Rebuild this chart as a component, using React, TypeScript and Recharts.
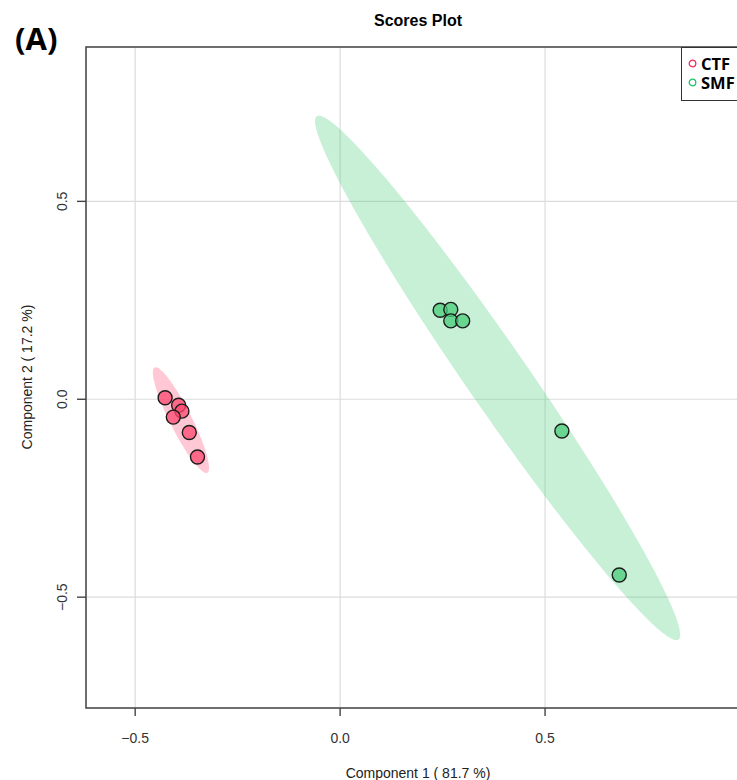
import React from "react";
import { ScatterChart, Scatter, XAxis, YAxis, CartesianGrid, ReferenceArea } from "recharts";

// PLS-DA scores (component 1, component 2)
const ctfX = [-0.427, -0.394, -0.386, -0.407, -0.368, -0.348];
const ctfY = [0.004, -0.015, -0.03, -0.045, -0.084, -0.146];
const smfX = [0.244, 0.27, 0.27, 0.299, 0.541, 0.681];
const smfY = [0.225, 0.227, 0.198, 0.198, -0.08, -0.444];

const groups = ["CTF", "SMF"];
const xTicks = [-0.5, 0, 0.5];
const yTicks = [-0.5, 0, 0.5];
const xDomain = [-0.62, 1.0];
const yDomain = [-0.78, 0.89];

const PINK = "#FF4870";
const GREEN = "#48CD7A";
const FONT = "'Liberation Sans', Arial, sans-serif";

const toPoints = (xs: number[], ys: number[]) => xs.map((x, i) => ({ x, y: ys[i] }));

// 95% ellipse the way R's ellipse(cov, centre, level = 0.95) builds it
function confEllipse(xs: number[], ys: number[], npoints = 100) {
  const n = xs.length;
  const mx = xs.reduce((a, b) => a + b, 0) / n;
  const my = ys.reduce((a, b) => a + b, 0) / n;
  let sxx = 0, syy = 0, sxy = 0;
  for (let i = 0; i < n; i++) {
    sxx += (xs[i] - mx) ** 2;
    syy += (ys[i] - my) ** 2;
    sxy += (xs[i] - mx) * (ys[i] - my);
  }
  const sx = Math.sqrt(sxx / (n - 1));
  const sy = Math.sqrt(syy / (n - 1));
  const d = Math.acos(sxy / (n - 1) / (sx * sy));
  const t = Math.sqrt(5.991465); // qchisq(0.95, 2)
  const out = [];
  for (let i = 0; i < npoints; i++) {
    const a = (2 * Math.PI * i) / (npoints - 1);
    out.push({ x: mx + t * sx * Math.cos(a + d / 2), y: my + t * sy * Math.cos(a - d / 2) });
  }
  return out;
}

const fmt = (v: number) => v.toFixed(1).replace("-", "\u2212");

const XTick = (props: any) => {
  const { x, y, payload } = props;
  return (
    <text x={x} y={y} dy="0.35em" textAnchor="middle" fontSize={14} fill="#333" fontFamily={FONT}>
      {fmt(payload.value)}
    </text>
  );
};

const YTick = (props: any) => {
  const { x, y, payload } = props;
  return (
    <text x={x} y={y} dy="0.35em" textAnchor="middle" fontSize={14} fill="#333" fontFamily={FONT}
      transform={`rotate(-90 ${x} ${y})`}>
      {fmt(payload.value)}
    </text>
  );
};

const dot = (fill: string) => (p: any) => (
  <circle cx={p.cx} cy={p.cy} r={7} fill={fill} fillOpacity={0.75} stroke="#1c1c1c" strokeWidth={1.4} />
);

export default function App() {
  const ctf = toPoints(ctfX, ctfY);
  const smf = toPoints(smfX, smfY);
  const ctfEll = confEllipse(ctfX, ctfY);
  const smfEll = confEllipse(smfX, smfY);

  return (
    <div style={{ position: "fixed", left: 0, top: 0, width: 737, height: 780, overflow: "hidden", background: "#fff" }}>
      <ScatterChart width={800} height={780} margin={{ top: 47, right: 50, bottom: 32, left: 30 }}>
        <CartesianGrid stroke="#DCDCDC" strokeWidth={1.2} />
        <XAxis type="number" dataKey="x" domain={xDomain} ticks={xTicks} allowDataOverflow
          axisLine={false} tickLine={{ stroke: "#444", strokeWidth: 1.4 }} tickSize={8} tickMargin={22}
          height={40} tick={<XTick />} interval={0} />
        <YAxis type="number" dataKey="y" domain={yDomain} ticks={yTicks} allowDataOverflow
          axisLine={false} tickLine={{ stroke: "#444", strokeWidth: 1.4 }} tickSize={9} tickMargin={15}
          width={56} tick={<YTick />} interval={0} />
        <Scatter data={smfEll} fill={GREEN} line={{ stroke: "none", fill: GREEN, fillOpacity: 0.3 }}
          lineJointType="linearClosed" shape={() => <g />} isAnimationActive={false} />
        <Scatter data={ctfEll} fill={PINK} line={{ stroke: "none", fill: PINK, fillOpacity: 0.3 }}
          lineJointType="linearClosed" shape={() => <g />} isAnimationActive={false} />
        <Scatter data={ctf} fill={PINK} shape={dot(PINK)} isAnimationActive={false} />
        <Scatter data={smf} fill={GREEN} shape={dot(GREEN)} isAnimationActive={false} />
        <ReferenceArea x1={xDomain[0]} x2={xDomain[1]} y1={yDomain[0]} y2={yDomain[1]}
          fill="none" stroke="#444" strokeWidth={1.5} ifOverflow="visible" />
      </ScatterChart>

      <div style={{ position: "absolute", left: 15, top: 38, transform: "translateY(-50%)", fontFamily: "'Open Sans', sans-serif", fontWeight: 700, fontSize: 31, lineHeight: 1 }}>
        (A)
      </div>
      <div style={{ position: "absolute", left: 418, top: 21, transform: "translate(-50%,-50%)", fontFamily: FONT, fontWeight: 700, fontSize: 16, whiteSpace: "nowrap" }}>
        Scores Plot
      </div>
      <div style={{ position: "absolute", left: 418, top: 773, transform: "translate(-50%,-50%)", fontFamily: FONT, fontSize: 14, color: "#222", whiteSpace: "nowrap" }}>
        Component 1 ( 81.7 %)
      </div>
      <div style={{ position: "absolute", left: 27, top: 377, transform: "translate(-50%,-50%) rotate(-90deg)", fontFamily: FONT, fontSize: 14, color: "#222", whiteSpace: "nowrap" }}>
        Component 2 ( 17.2 %)
      </div>

      <div style={{ position: "absolute", left: 681, top: 47, width: 90, height: 54, boxSizing: "border-box", border: "1.5px solid #333", background: "#fff", fontFamily: "'Open Sans', sans-serif", fontWeight: 700, fontSize: 16.5 }}>
        {groups.map((g, i) => (
          <div key={g} style={{ position: "absolute", left: 6, top: 7 + i * 19, height: 17, display: "flex", alignItems: "center", lineHeight: "17px" }}>
            <svg width={9} height={9} style={{ marginRight: 4 }}>
              <circle cx={4.5} cy={4.5} r={3.3} fill="none" stroke={i === 0 ? "#F0305F" : "#1EC46A"} strokeWidth={1.3} />
            </svg>
            {g}
          </div>
        ))}
      </div>
    </div>
  );
}
